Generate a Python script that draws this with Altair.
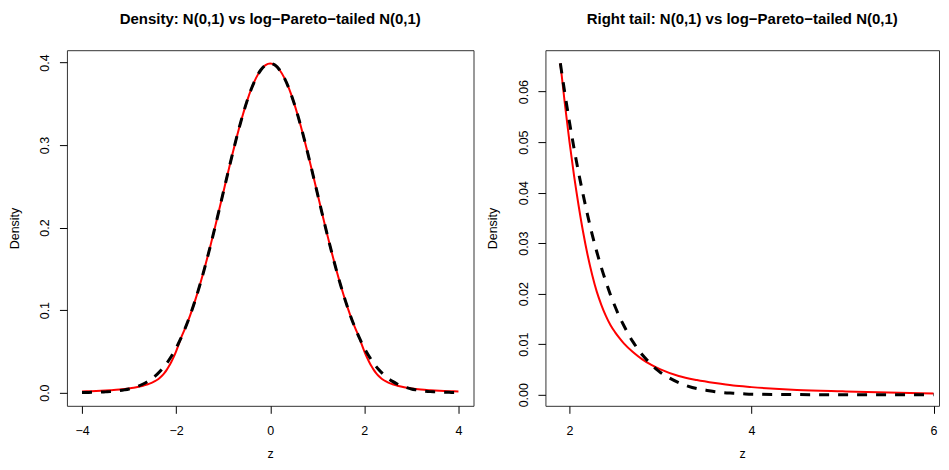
import altair as alt
import pandas as pd

# ---- data ----
# N(0,1) density on z = 0.0 .. 4.0 (step 0.1); mirrored for negative z
norm_z = [0.0, 0.1, 0.2, 0.3, 0.4, 0.5, 0.6, 0.7, 0.8, 0.9, 1.0,
          1.1, 1.2, 1.3, 1.4, 1.5, 1.6, 1.7, 1.8, 1.9, 2.0,
          2.1, 2.2, 2.3, 2.4, 2.5, 2.6, 2.7, 2.8, 2.9, 3.0,
          3.1, 3.2, 3.3, 3.4, 3.5, 3.6, 3.7, 3.8, 3.9, 4.0]
norm_d = [0.3989, 0.3970, 0.3910, 0.3814, 0.3683, 0.3521, 0.3332, 0.3123, 0.2897, 0.2661, 0.2420,
          0.2179, 0.1942, 0.1714, 0.1497, 0.1295, 0.1109, 0.0940, 0.0790, 0.0656, 0.0540,
          0.0440, 0.0355, 0.0283, 0.0224, 0.0175, 0.0136, 0.0104, 0.0079, 0.0060, 0.0044,
          0.0033, 0.0024, 0.0017, 0.0012, 0.0009, 0.0006, 0.0004, 0.0003, 0.0002, 0.0001]

# log-Pareto-tailed density beyond the splice point (body equals N(0,1))
tail_z = [1.90, 1.95, 2.00, 2.05, 2.10, 2.15, 2.20, 2.25, 2.30, 2.35, 2.40, 2.45,
          2.50, 2.55, 2.60, 2.70, 2.80, 2.90, 3.00, 3.20, 3.40, 3.60, 3.80, 4.00,
          4.50, 5.00, 5.50, 6.00]
tail_d = [0.0656, 0.0575, 0.0501, 0.0434, 0.0375, 0.0322, 0.0276, 0.0237, 0.0204, 0.0178,
          0.0156, 0.0138, 0.0124, 0.0112, 0.0101, 0.0084, 0.0070, 0.0059, 0.0050, 0.0037,
          0.0029, 0.0023, 0.0018, 0.0015, 0.00095, 0.00066, 0.00042, 0.00025]

# N(0,1) density on the right-tail panel grid
rt_norm_z = [1.90, 1.95, 2.00, 2.05, 2.10, 2.15, 2.20, 2.25, 2.30, 2.35, 2.40, 2.45,
             2.50, 2.55, 2.60, 2.65, 2.70, 2.75, 2.80, 2.85, 2.90, 2.95, 3.00,
             3.10, 3.20, 3.30, 3.40, 3.50, 3.60, 3.70, 3.80, 3.90, 4.00,
             4.50, 5.00, 5.50, 6.00]
rt_norm_d = [0.0656, 0.0596, 0.0540, 0.0488, 0.0440, 0.0396, 0.0355, 0.0317, 0.0283, 0.0252,
             0.0224, 0.0198, 0.0175, 0.0154, 0.0136, 0.0119, 0.0104, 0.0091, 0.0079, 0.0069,
             0.0060, 0.0051, 0.0044, 0.0033, 0.0024, 0.0017, 0.0012, 0.0009, 0.0006, 0.0004,
             0.0003, 0.0002, 0.0001, 0.00002, 0.000002, 0.0, 0.0]

left_xticks = [-4, -2, 0, 2, 4]
left_yticks = [0.0, 0.1, 0.2, 0.3, 0.4]
right_xticks = [2, 4, 6]
right_yticks = [0.00, 0.01, 0.02, 0.03, 0.04, 0.05, 0.06]

title_left = "Density: N(0,1) vs log\u2212Pareto\u2212tailed N(0,1)"
title_right = "Right tail: N(0,1) vs log\u2212Pareto\u2212tailed N(0,1)"

# ---- tables ----
lz, lblack = [], []
for z, d in zip(norm_z[::-1], norm_d[::-1]):
    if z > 0:
        lz.append(-z); lblack.append(d)
for z, d in zip(norm_z, norm_d):
    lz.append(z); lblack.append(d)
left_black = pd.DataFrame({"z": lz, "d": lblack})

rz, rd = [], []
for z, d in zip(tail_z[::-1], tail_d[::-1]):
    if z <= 4.0:
        rz.append(-z); rd.append(d)
for z, d in zip(norm_z[::-1], norm_d[::-1]):
    if 0 < z < 1.9:
        rz.append(-z); rd.append(d)
for z, d in zip(norm_z, norm_d):
    if z < 1.9:
        rz.append(z); rd.append(d)
for z, d in zip(tail_z, tail_d):
    if z <= 4.0:
        rz.append(z); rd.append(d)
left_red = pd.DataFrame({"z": rz, "d": rd})

right_red = pd.DataFrame({"z": tail_z, "d": tail_d})
right_black = pd.DataFrame({"z": rt_norm_z, "d": rt_norm_d})

FONT = "Liberation Sans"
TICK = 7.5


def panel(red_df, black_df, xdom, ydom, xticks, yticks, yfmt, title, w, h):
    xax = alt.Axis(values=xticks, format="d", title="z", grid=False, domain=False,
                   tickSize=TICK, tickColor="#000", labelPadding=11.2, labelBaseline="top",
                   labelFontSize=12.5, labelFont=FONT, labelColor="#000",
                   titleFont=FONT, titleFontSize=12.5, titleFontWeight="normal",
                   titleColor="#000", titleY=52, titleBaseline="alphabetic")
    yax = alt.Axis(values=yticks, format=yfmt, title="Density", grid=False, domain=False,
                   tickSize=TICK, tickColor="#000", labelPadding=10.5, labelAngle=-90,
                   labelAlign="center", labelBaseline="alphabetic",
                   labelFontSize=12.5, labelFont=FONT, labelColor="#000",
                   titleFont=FONT, titleFontSize=12.5, titleFontWeight="normal",
                   titleColor="#000", titleX=-48.5, titleBaseline="alphabetic")
    x = alt.X("z:Q", scale=alt.Scale(domain=xdom, nice=False, zero=False), axis=xax)
    y = alt.Y("d:Q", scale=alt.Scale(domain=ydom, nice=False, zero=False), axis=yax)
    red = alt.Chart(red_df).mark_line(color="#FF0000", strokeWidth=2,
                                      interpolate="monotone").encode(x=x, y=y)
    black = alt.Chart(black_df).mark_line(color="#000000", strokeWidth=3,
                                          strokeDash=[10, 9],
                                          interpolate="monotone").encode(x=x, y=y)
    return alt.layer(red, black).properties(
        width=w, height=h,
        title=alt.Title(title, font=FONT, fontSize=15, fontWeight="bold", color="#000",
                        anchor="middle", baseline="alphabetic", offset=11.5),
    )


left = panel(left_red, left_black, [-4.32, 4.32], [-0.016, 0.415],
             left_xticks, left_yticks, ".1f", title_left, 407, 356)
right = panel(right_red, right_black, [1.736, 6.06], [-0.0022, 0.0682],
              right_xticks, right_yticks, ".2f", title_right, 394, 356)

chart = alt.hconcat(left, right, spacing=72, bounds="flush").properties(
    padding={"left": 0, "top": 3, "right": 0, "bottom": 0}
).configure(background="white").configure_view(stroke="#333", strokeWidth=1)

chart.save("out.html", embed_options={"renderer": "svg", "actions": False})
